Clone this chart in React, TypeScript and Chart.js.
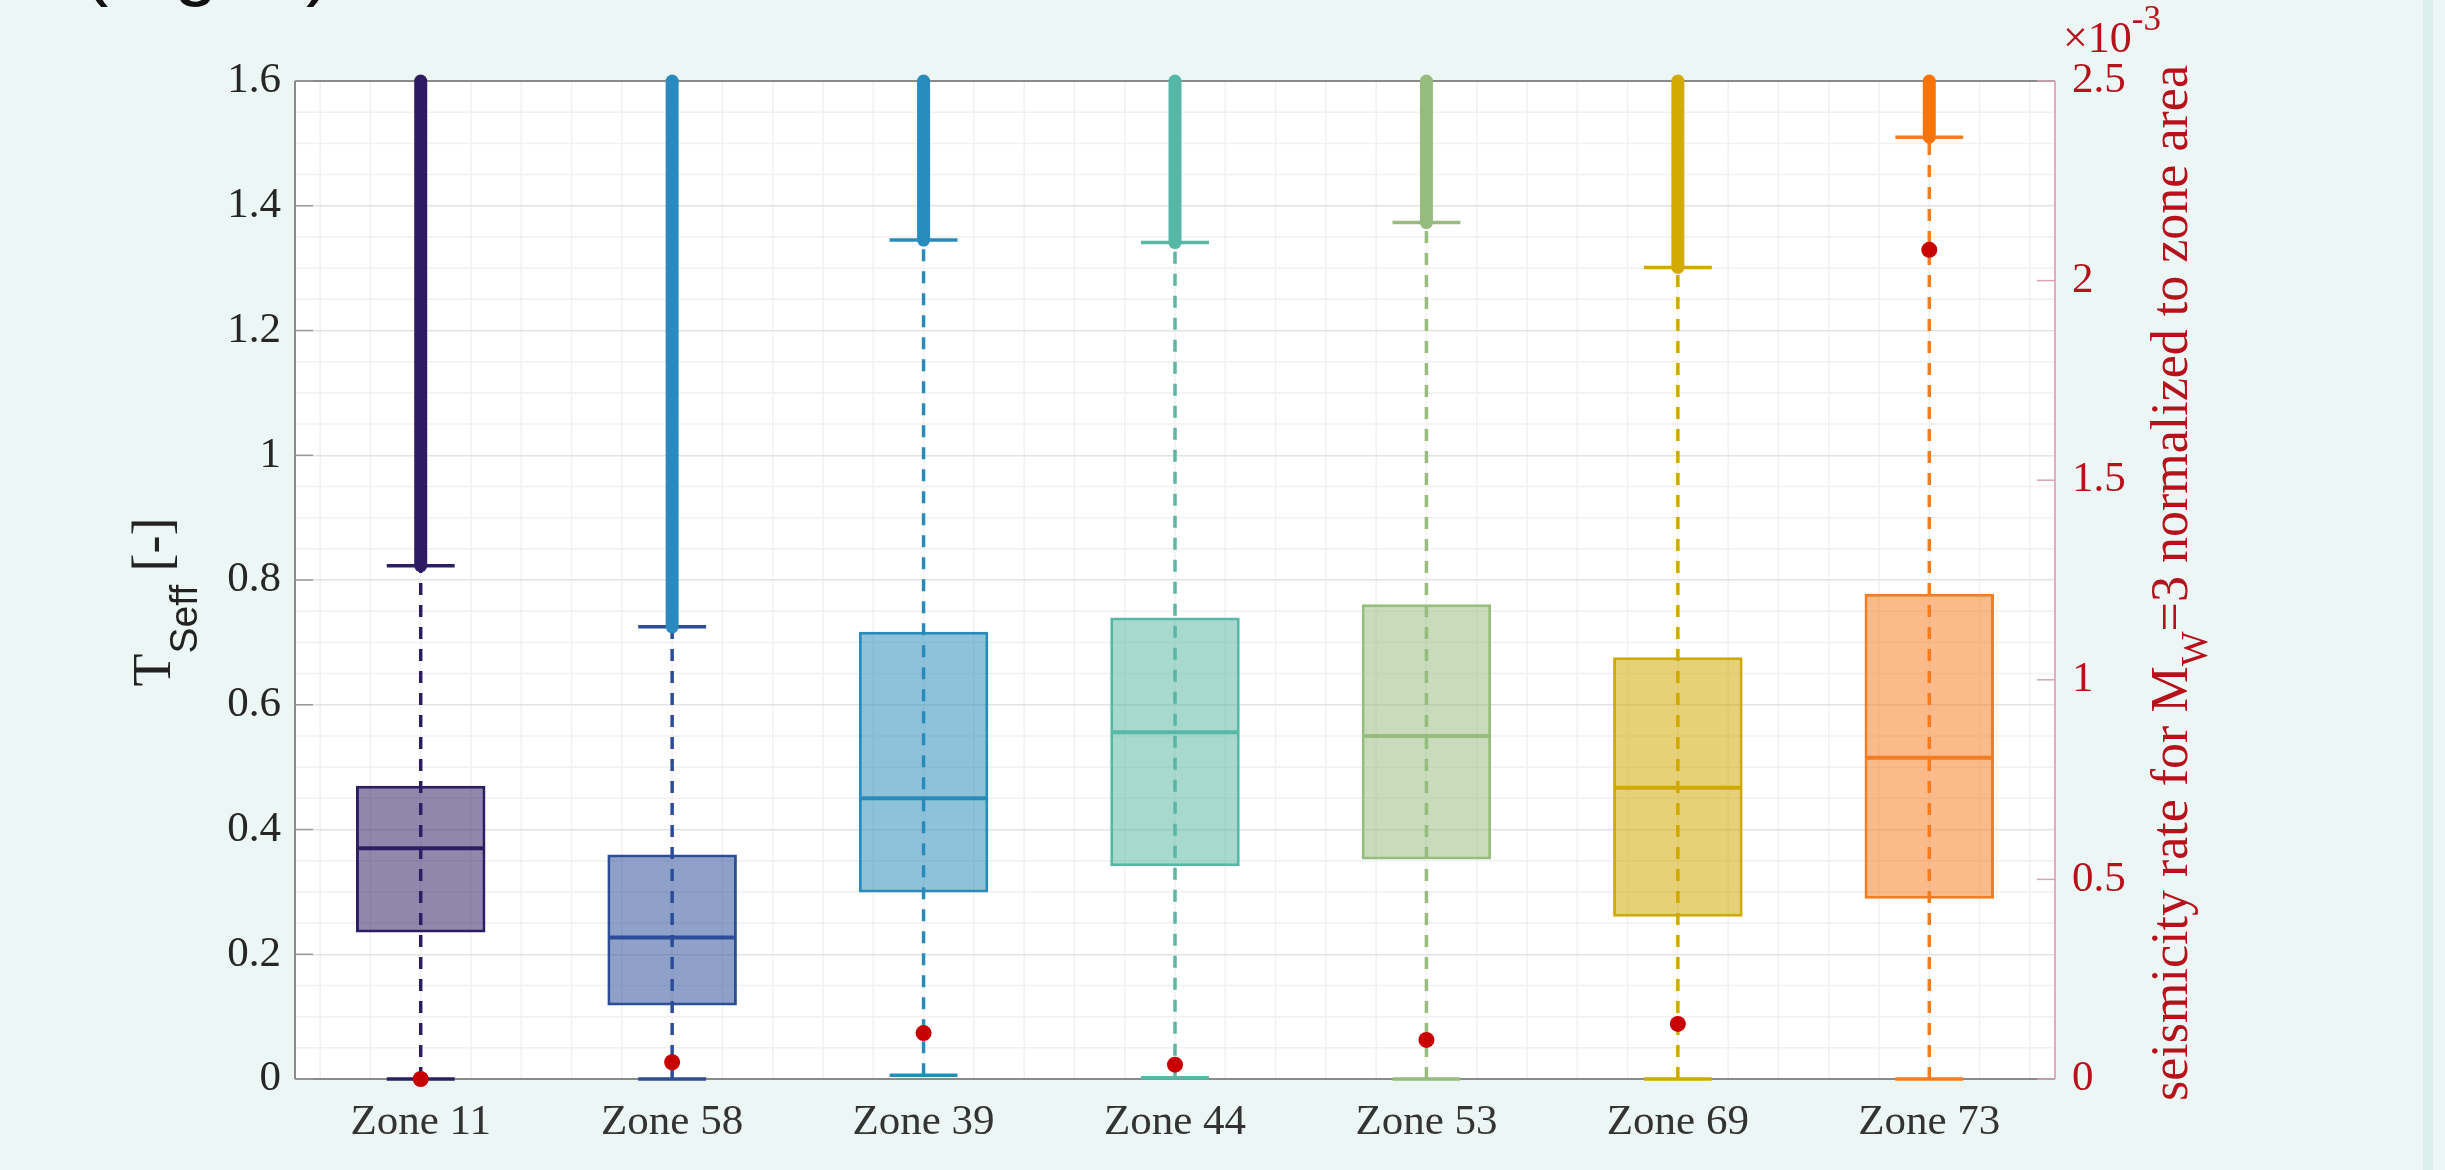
import React, { useEffect, useRef } from 'react';
import { Chart, registerables } from 'chart.js';

Chart.register(...registerables);

// ---------------- data ----------------
const zones = ['Zone 11', 'Zone 58', 'Zone 39', 'Zone 44', 'Zone 53', 'Zone 69', 'Zone 73'];
const lowerWhisker = [0.0, 0.0, 0.006, 0.002, 0.0, 0.0, 0.0];
const quartile1 = [0.235, 0.118, 0.299, 0.341, 0.352, 0.26, 0.289];
const medianValues = [0.37, 0.227, 0.45, 0.556, 0.55, 0.467, 0.515];
const quartile3 = [0.47, 0.36, 0.717, 0.74, 0.761, 0.676, 0.778];
const upperWhisker = [0.823, 0.725, 1.345, 1.341, 1.373, 1.301, 1.51];
const outlierTop = [1.6, 1.6, 1.6, 1.6, 1.6, 1.6, 1.6];
const seismicityRate = [0.0, 0.042e-3, 0.115e-3, 0.036e-3, 0.098e-3, 0.138e-3, 2.077e-3];

const boxColors = ['#2d1e63', '#2c4d97', '#2a8bbb', '#58b7a5', '#97bd7e', '#cfa800', '#f57d20'];
const outlierColors = ['#2e1b61', '#2a8ac0', '#2a8bbd', '#55b8a6', '#97bd7e', '#d2aa00', '#f97406'];
const fillAlpha = 0.53;

const leftTitle = [
  { text: 'T', font: '54px "Liberation Serif"', dy: 0 },
  { text: 'Seff', font: '39px "Liberation Sans"', dy: 27 },
  { text: ' [-]', font: '54px "Liberation Serif"', dy: 0 },
];
const rightTitle = [
  { text: 'seismicity rate for M', font: '52px "Liberation Serif"', dy: 0 },
  { text: 'W', font: '37px "Liberation Serif"', dy: 20 },
  { text: '=3 normalized to zone area', font: '52px "Liberation Serif"', dy: 0 },
];
const exponentLabel = [
  { text: '×10', font: '44px "Liberation Serif"', dy: 0 },
  { text: '-3', font: '35px "Liberation Serif"', dy: -22 },
];
const cornerText = '(Fig. 2)';

const RED = '#b5121b';
const MINOR_Y_STEP = 0.05;
const MINOR_X_STEP = 0.2;

function rgba(hex: string, a: number) {
  const n = parseInt(hex.slice(1), 16);
  return `rgba(${(n >> 16) & 255},${(n >> 8) & 255},${n & 255},${a})`;
}

function drawRich(ctx: CanvasRenderingContext2D, parts: any[], x: number, y: number, align: 'center' | 'left') {
  let total = 0;
  const widths = parts.map((p) => {
    ctx.font = p.font;
    const w = ctx.measureText(p.text).width;
    total += w;
    return w;
  });
  let cx = align === 'center' ? x - total / 2 : x;
  ctx.textAlign = 'left';
  ctx.textBaseline = 'alphabetic';
  parts.forEach((p, i) => {
    ctx.font = p.font;
    ctx.fillText(p.text, cx, y + p.dy);
    cx += widths[i];
  });
}

function seg(ctx: CanvasRenderingContext2D, x1: number, y1: number, x2: number, y2: number) {
  ctx.beginPath();
  ctx.moveTo(x1, y1);
  ctx.lineTo(x2, y2);
  ctx.stroke();
}

const boxPlotPlugin = {
  id: 'boxPlotExtras',
  beforeDraw(chart: any) {
    const { ctx, chartArea: a } = chart;
    const xs = chart.scales.x;
    const ys = chart.scales.y;
    ctx.save();
    ctx.fillStyle = '#ffffff';
    ctx.fillRect(a.left, a.top, a.right - a.left, a.bottom - a.top);
    ctx.strokeStyle = '#f1f1f1';
    ctx.lineWidth = 1.5;
    const nY = Math.round(1.6 / MINOR_Y_STEP);
    for (let k = 1; k < nY; k++) {
      if (k % 4 === 0) continue;
      const py = ys.getPixelForValue(k * MINOR_Y_STEP);
      seg(ctx, a.left, py, a.right, py);
    }
    for (let k = -3; k <= 33; k++) {
      const px = xs.getPixelForValue(k * MINOR_X_STEP);
      if (px <= a.left + 2 || px >= a.right - 2) continue;
      seg(ctx, px, a.top, px, a.bottom);
    }
    ctx.restore();
  },
  beforeDatasetsDraw(chart: any) {
    const { ctx, chartArea: a } = chart;
    const xs = chart.scales.x;
    const ys = chart.scales.y;
    const y1 = chart.scales.y1;
    ctx.save();
    // frame
    ctx.lineWidth = 2;
    ctx.strokeStyle = '#8a8a8a';
    seg(ctx, a.left, a.top, a.right, a.top);
    seg(ctx, a.left, a.top, a.left, a.bottom);
    seg(ctx, a.left, a.bottom, a.right, a.bottom);
    ctx.strokeStyle = '#e8a9ba';
    seg(ctx, a.right, a.top, a.right, a.bottom);
    // inward ticks
    ctx.lineWidth = 1.5;
    ctx.strokeStyle = '#9a9a9a';
    ys.ticks.forEach((t: any) => {
      const py = ys.getPixelForValue(t.value);
      seg(ctx, a.left, py, a.left + 18, py);
    });
    ctx.strokeStyle = '#d9a3b2';
    y1.ticks.forEach((t: any) => {
      const py = y1.getPixelForValue(t.value);
      seg(ctx, a.right - 18, py, a.right, py);
    });
    // dashed whiskers
    ctx.lineWidth = 3.5;
    ctx.setLineDash([12, 10]);
    zones.forEach((_, i) => {
      const px = xs.getPixelForValue(i);
      ctx.strokeStyle = boxColors[i];
      seg(ctx, px, ys.getPixelForValue(lowerWhisker[i]), px, ys.getPixelForValue(upperWhisker[i]));
    });
    ctx.setLineDash([]);
    ctx.restore();
  },
  afterDatasetDraw(chart: any, args: any) {
    if (args.index !== 0) return;
    const { ctx } = chart;
    const xs = chart.scales.x;
    const ys = chart.scales.y;
    const meta = chart.getDatasetMeta(0);
    const catW = Math.abs(xs.getPixelForValue(1) - xs.getPixelForValue(0));
    ctx.save();
    zones.forEach((_, i) => {
      const bar = meta.data[i];
      const px = xs.getPixelForValue(i);
      const half = bar.width / 2;
      // median
      ctx.strokeStyle = boxColors[i];
      ctx.lineWidth = 4;
      const my = ys.getPixelForValue(medianValues[i]);
      seg(ctx, px - half + 2, my, px + half - 2, my);
      // caps
      const capHalf = catW * 0.135;
      ctx.lineWidth = 3.5;
      const ly = ys.getPixelForValue(lowerWhisker[i]);
      const uy = ys.getPixelForValue(upperWhisker[i]);
      seg(ctx, px - capHalf, ly, px + capHalf, ly);
      seg(ctx, px - capHalf, uy, px + capHalf, uy);
      // dense outliers
      ctx.strokeStyle = outlierColors[i];
      ctx.lineWidth = 13;
      ctx.lineCap = 'round';
      seg(ctx, px, uy, px, ys.getPixelForValue(outlierTop[i]));
      ctx.lineCap = 'butt';
    });
    ctx.restore();
  },
  afterDraw(chart: any) {
    const { ctx, chartArea: a } = chart;
    const cy = (a.top + a.bottom) / 2;
    ctx.save();
    // left title
    ctx.fillStyle = '#222222';
    ctx.save();
    ctx.translate(170, cy + 22);
    ctx.rotate(-Math.PI / 2);
    drawRich(ctx, leftTitle, 0, 0, 'center');
    ctx.restore();
    // right title
    ctx.fillStyle = RED;
    ctx.save();
    ctx.translate(2187, cy + 3);
    ctx.rotate(-Math.PI / 2);
    drawRich(ctx, rightTitle, 0, 0, 'center');
    ctx.restore();
    // exponent
    drawRich(ctx, exponentLabel, a.right + 8, 52, 'left');
    // cut-off heading
    ctx.fillStyle = '#111111';
    ctx.font = '79px "Liberation Sans"';
    ctx.textAlign = 'left';
    ctx.textBaseline = 'alphabetic';
    ctx.fillText(cornerText, 82, -10);
    ctx.restore();
  },
};

export default function App() {
  const ref = useRef<HTMLCanvasElement>(null);

  useEffect(() => {
    const canvas = ref.current;
    if (!canvas) return;
    const chart = new Chart(canvas, {
      type: 'bar',
      data: {
        labels: zones,
        datasets: [
          {
            type: 'bar',
            label: 'T_Seff',
            data: zones.map((_, i) => [quartile1[i], quartile3[i]]) as any,
            backgroundColor: boxColors.map((c) => rgba(c, fillAlpha)),
            borderColor: boxColors,
            borderWidth: 3,
            borderSkipped: false,
            barPercentage: 0.515,
            categoryPercentage: 1,
            yAxisID: 'y',
            order: 2,
          } as any,
          {
            type: 'line',
            label: 'seismicity rate',
            data: seismicityRate,
            yAxisID: 'y1',
            showLine: false,
            pointRadius: 8,
            pointStyle: 'circle',
            pointBackgroundColor: '#c80000',
            pointBorderColor: '#c80000',
            pointBorderWidth: 0,
            clip: false,
            order: 1,
          } as any,
        ],
      },
      options: {
        responsive: false,
        devicePixelRatio: 1,
        animation: false,
        layout: { padding: { top: 81, left: 0, right: 0, bottom: 0 } },
        plugins: { legend: { display: false }, tooltip: { enabled: false } },
        scales: {
          x: {
            type: 'category',
            position: 'bottom',
            offset: true,
            grid: { display: false, drawTicks: false },
            border: { display: false },
            ticks: {
              color: '#333333',
              font: { family: 'Liberation Serif', size: 43 },
              padding: 18,
              maxRotation: 0,
            },
            afterFit: (s: any) => {
              s.height = 91;
            },
          },
          y: {
            type: 'linear',
            position: 'left',
            min: 0,
            max: 1.6,
            grid: { color: '#e3e3e3', lineWidth: 1.5, drawTicks: false },
            border: { display: false },
            ticks: {
              stepSize: 0.2,
              color: '#262626',
              font: { family: 'Liberation Serif', size: 43 },
              padding: 14,
              callback: (v: any) => String(Math.round(Number(v) * 10) / 10),
            },
            afterFit: (s: any) => {
              s.width = 295;
            },
          },
          y1: {
            type: 'linear',
            position: 'right',
            min: 0,
            max: 0.0025,
            grid: { display: false, drawOnChartArea: false, drawTicks: false },
            border: { display: false },
            ticks: {
              stepSize: 0.0005,
              color: RED,
              font: { family: 'Liberation Serif', size: 43 },
              padding: 17,
              callback: (v: any) => String(Math.round(Number(v) * 1e4) / 10),
            },
            afterFit: (s: any) => {
              s.width = 390;
            },
          },
        },
      },
      plugins: [boxPlotPlugin],
    });
    return () => chart.destroy();
  }, []);

  return (
    <div
      style={{
        position: 'fixed',
        left: 0,
        top: 0,
        width: 2445,
        height: 1170,
        background: '#ecf6f4',
        overflow: 'hidden',
      }}
    >
      <canvas
        ref={ref}
        width={2445}
        height={1170}
        style={{ position: 'absolute', left: 0, top: 0, width: 2445, height: 1170 }}
      />
      <div style={{ position: 'absolute', left: 2423, top: 0, width: 10, height: 1170, background: '#dcefea' }} />
    </div>
  );
}
